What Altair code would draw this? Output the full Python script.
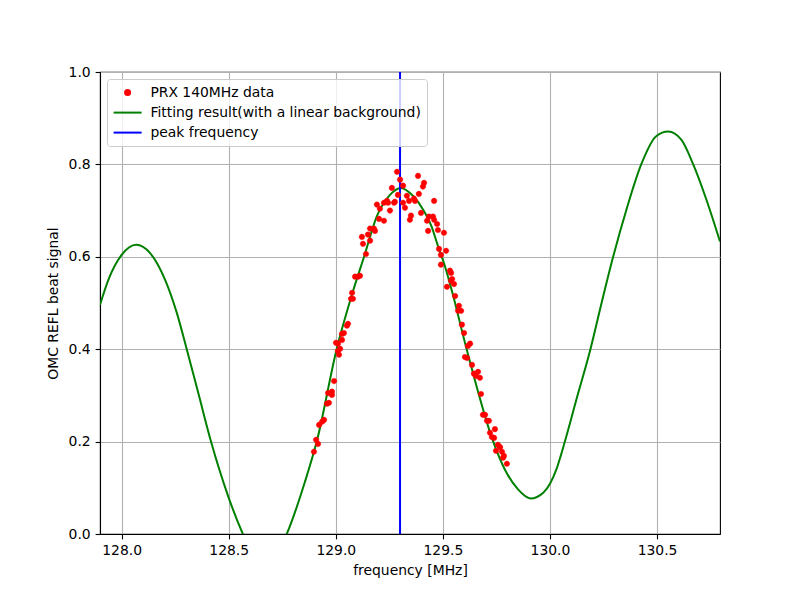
import altair as alt
import pandas as pd

# measured data points (frequency [MHz], signal)
data_freq = [128.898, 128.908, 128.917, 128.922, 128.936, 128.945, 128.959, 128.968, 128.964, 128.982,
             128.982, 128.992, 129.015, 129.010, 129.020, 129.001, 129.010, 129.029, 129.029, 129.038,
             129.052, 129.057, 129.071, 129.080, 129.076, 129.090, 129.104, 129.113, 129.141, 129.127,
             129.160, 129.122, 129.150, 129.160, 129.178, 129.183, 129.202, 129.192, 129.206, 129.225,
             129.225, 129.239, 129.244, 129.253, 129.262, 129.272, 129.276, 129.286, 129.290, 129.300,
             129.314, 129.314, 129.323, 129.332, 129.342, 129.346, 129.351, 129.365, 129.370, 129.384,
             129.388, 129.398, 129.407, 129.412, 129.426, 129.435, 129.431, 129.454, 129.459, 129.459,
             129.473, 129.477, 129.505, 129.482, 129.515, 129.491, 129.491, 129.533, 129.538, 129.543,
             129.552, 129.519, 129.538, 129.557, 129.575, 129.571, 129.585, 129.589, 129.599, 129.627,
             129.617, 129.603, 129.613, 129.636, 129.664, 129.645, 129.655, 129.673, 129.678, 129.687,
             129.697, 129.706, 129.715, 129.743, 129.720, 129.729, 129.739, 129.757, 129.767, 129.748,
             129.776, 129.785, 129.781, 129.799]
data_val = [0.178, 0.204, 0.195, 0.236, 0.243, 0.247, 0.282, 0.284, 0.305, 0.308,
            0.301, 0.331, 0.388, 0.396, 0.401, 0.414, 0.412, 0.420, 0.433, 0.435,
            0.451, 0.455, 0.509, 0.509, 0.522, 0.557, 0.557, 0.559, 0.606, 0.628,
            0.635, 0.643, 0.648, 0.661, 0.661, 0.656, 0.682, 0.713, 0.704, 0.678,
            0.717, 0.721, 0.717, 0.700, 0.749, 0.717, 0.719, 0.784, 0.734, 0.767,
            0.754, 0.717, 0.706, 0.732, 0.721, 0.680, 0.689, 0.726, 0.721, 0.775,
            0.736, 0.695, 0.752, 0.760, 0.678, 0.687, 0.656, 0.687, 0.680, 0.721,
            0.671, 0.658, 0.652, 0.617, 0.613, 0.604, 0.583, 0.570, 0.565, 0.552,
            0.541, 0.535, 0.548, 0.515, 0.494, 0.483, 0.483, 0.453, 0.435, 0.412,
            0.407, 0.383, 0.381, 0.366, 0.351, 0.347, 0.342, 0.338, 0.303, 0.258,
            0.258, 0.245, 0.245, 0.227, 0.219, 0.210, 0.208, 0.193, 0.188, 0.180,
            0.178, 0.169, 0.165, 0.152]

# fitted curve
curve_freq = [127.899, 127.938, 128.000, 128.068, 128.133, 128.203, 128.258, 128.304, 128.358, 128.418,
              128.498, 128.566, 128.620, 128.670, 128.720, 128.771, 128.856, 128.911, 129.004, 129.082,
              129.132, 129.191, 129.253, 129.304, 129.362, 129.408, 129.447, 129.478, 129.510, 129.541,
              129.611, 129.735, 129.790, 129.850, 129.909, 129.970, 130.030, 130.069, 130.127, 130.189,
              130.241, 130.295, 130.357, 130.427, 130.496, 130.552, 130.614, 130.668, 130.731, 130.794]
curve_val = [0.496, 0.550, 0.604, 0.626, 0.608, 0.550, 0.478, 0.400, 0.305, 0.199,
             0.081, 0.000, -0.052, -0.068, -0.048, 0.000, 0.113, 0.200, 0.400, 0.528,
             0.600, 0.687, 0.734, 0.749, 0.731, 0.702, 0.666, 0.622, 0.579, 0.528,
             0.400, 0.200, 0.139, 0.097, 0.077, 0.090, 0.140, 0.199, 0.297, 0.400,
             0.500, 0.600, 0.702, 0.801, 0.861, 0.871, 0.853, 0.801, 0.723, 0.633]

peak_freq = [129.30]

labels = ["PRX 140MHz data", "Fitting result(with a linear background)", "peak frequency"]
colors = ["#ff0000", "#008000", "#0000ff"]
x_ticks = [128.0, 128.5, 129.0, 129.5, 130.0, 130.5]
y_ticks = [0.0, 0.2, 0.4, 0.6, 0.8, 1.0]

circle_path = "M-0.36,0a0.36,0.36 0 1,0 0.72,0a0.36,0.36 0 1,0 -0.72,0Z"
line_path = "M-2,0H2"

pts = pd.DataFrame({"f": data_freq, "v": data_val, "series": labels[0]})
crv = pd.DataFrame({"f": curve_freq, "v": curve_val, "series": labels[1]})
pk = pd.DataFrame({"f": peak_freq, "series": labels[2]})

xscale = alt.Scale(domain=[127.899, 130.794], nice=False, zero=False)
yscale = alt.Scale(domain=[0, 1], nice=False, zero=False)
cscale = alt.Scale(domain=labels, range=colors)

xaxis = alt.Axis(values=x_ticks, format=".1f", title="frequency [MHz]", titlePadding=6)
yaxis = alt.Axis(values=y_ticks, format=".1f", title="OMC REFL beat signal", titlePadding=8)

def make_legend():
    return alt.Legend(
        title=None, orient="none", legendX=7, legendY=7, padding=5.6, cornerRadius=3,
        strokeColor="#cccccc", fillColor="rgba(255,255,255,0.8)", symbolSize=196,
        symbolOffset=7, labelOffset=14.8, rowPadding=5,
        labelFont="DejaVu Sans", labelFontSize=13.9,
        labelColor="black", labelLimit=400, symbolStrokeWidth=2,
    )

points = alt.Chart(pts).mark_point(filled=True, opacity=1, size=250, strokeWidth=0.3, clip=True).encode(
    x=alt.X("f:Q", scale=xscale, axis=xaxis),
    y=alt.Y("v:Q", scale=yscale, axis=yaxis),
    fill=alt.Fill("series:N", scale=cscale, legend=make_legend()),
    stroke=alt.Stroke("series:N", scale=cscale, legend=make_legend()),
    shape=alt.Shape("series:N", scale=alt.Scale(domain=labels, range=[circle_path, line_path, line_path]),
                    legend=make_legend()),
)

curve = alt.Chart(crv).mark_line(strokeWidth=2, clip=True, interpolate="monotone").encode(
    x=alt.X("f:Q", scale=xscale),
    y=alt.Y("v:Q", scale=yscale),
    stroke=alt.Stroke("series:N", scale=cscale, legend=make_legend()),
)

rule = alt.Chart(pk).mark_rule(strokeWidth=2).encode(
    x=alt.X("f:Q", scale=xscale),
    stroke=alt.Stroke("series:N", scale=cscale, legend=make_legend()),
)

chart = alt.layer(curve, rule, points).properties(
    width=620, height=462,
    autosize=alt.AutoSizeParams(type="none"),
    padding={"left": 92, "top": 64, "right": 72, "bottom": 58},
).configure_view(
    stroke="black", strokeWidth=1.1
).configure_axis(
    grid=True, gridColor="#b0b0b0", gridWidth=1.1,
    domainColor="black", domainWidth=1.1,
    tickColor="black", tickSize=4.9, tickWidth=1.1,
    labelFont="DejaVu Sans", labelFontSize=13.9, labelColor="black", labelPadding=4.9,
    titleFont="DejaVu Sans", titleFontSize=13.9, titleFontWeight="normal", titleColor="black",
)

chart.save("out.html", embed_options={"renderer": "svg", "actions": False})
